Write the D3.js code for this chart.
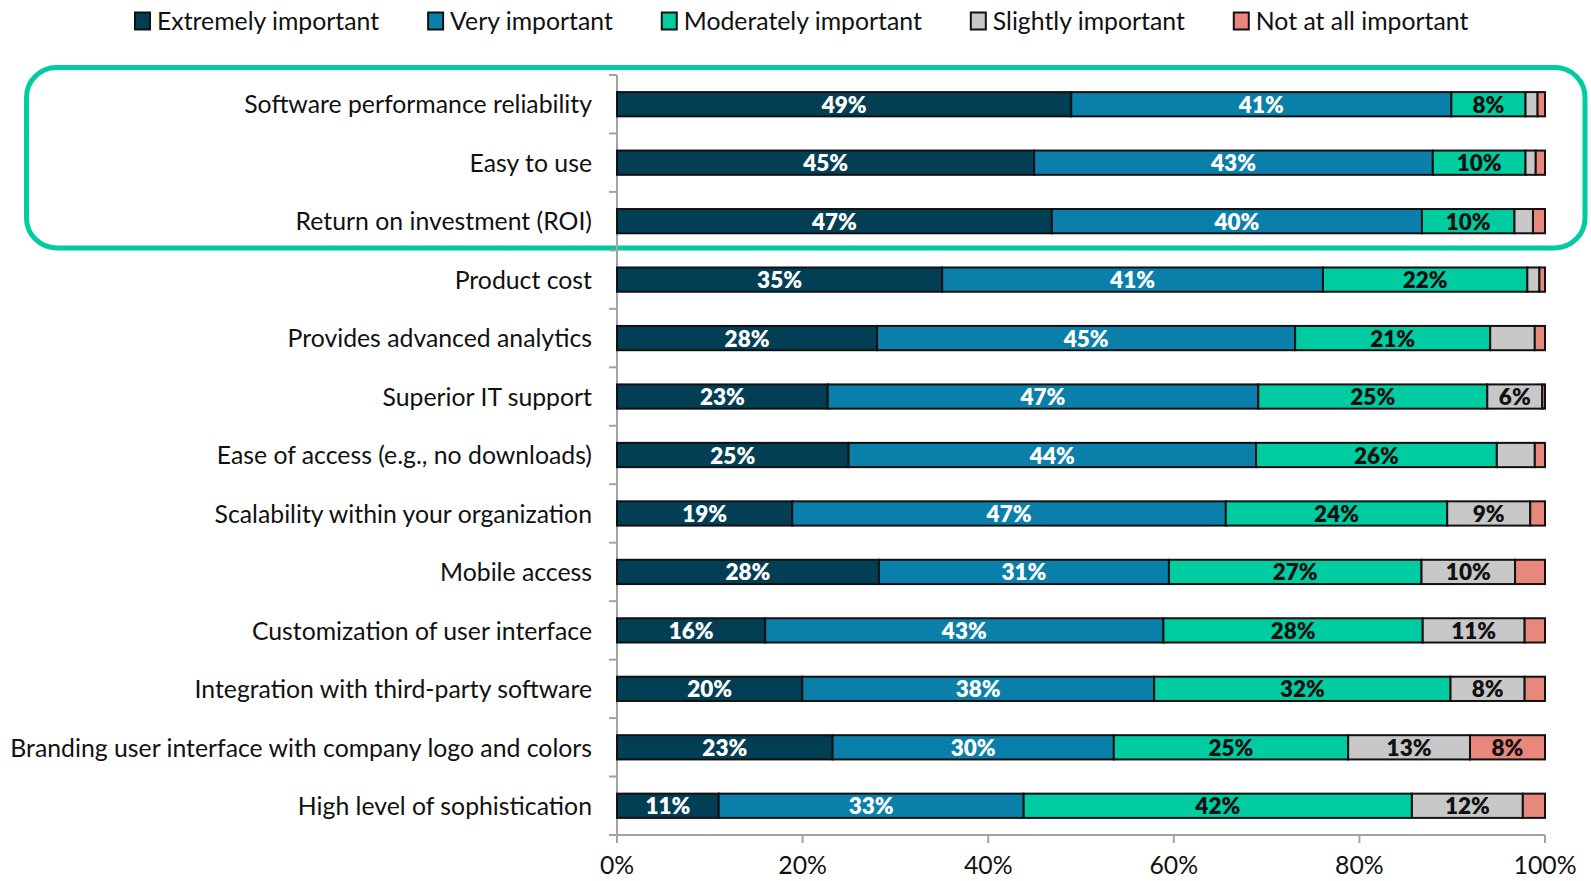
<!DOCTYPE html>
<html>
<head>
<meta charset="utf-8">
<script src="https://cdn.jsdelivr.net/npm/d3@7"></script>
<style>
  html, body { margin: 0; padding: 0; background: #fff; }
  svg { display: block; }
  text { font-family: Lato, "Open Sans", sans-serif; }
</style>
</head>
<body>
<svg id="chart" width="1591" height="881"></svg>
<script>
// Survey: importance of software attributes (share of respondents, %)
const categories = [
  "Software performance reliability",
  "Easy to use",
  "Return on investment (ROI)",
  "Product cost",
  "Provides advanced analytics",
  "Superior IT support",
  "Ease of access (e.g., no downloads)",
  "Scalability within your organization",
  "Mobile access",
  "Customization of user interface",
  "Integration with third-party software",
  "Branding user interface with company logo and colors",
  "High level of sophistication"
];
const seriesNames = ["Extremely important", "Very important", "Moderately important", "Slightly important", "Not at all important"];
const extremely  = [49, 45, 47, 35, 28, 23, 25, 19, 28, 16, 20, 23, 11];
const very       = [41, 43, 40, 41, 45, 47, 44, 47, 31, 43, 38, 30, 33];
const moderately = [8, 10, 10, 22, 21, 25, 26, 24, 27, 28, 32, 25, 42];
const slightly   = [1.3, 1.1, 2.0, 1.3, 4.8, 6, 4.1, 9, 10, 11, 8, 13, 12];
const notAtAll   = [0.8, 1.0, 1.3, 0.6, 1.1, 0.3, 1.1, 1.6, 3.2, 2.2, 2.2, 8, 2.4];
const tickValues = [0, 0.2, 0.4, 0.6, 0.8, 1.0];
const highlighted = ["Software performance reliability", "Easy to use", "Return on investment (ROI)"];

const colors = ["#023f55", "#0a7fa9", "#00cca1", "#c8c8c8", "#e8877c"];
const labelColors = ["#ffffff", "#ffffff", "#111111", "#111111", "#111111"];

const rows = categories.map((c, i) => ({
  category: c,
  [seriesNames[0]]: extremely[i],
  [seriesNames[1]]: very[i],
  [seriesNames[2]]: moderately[i],
  [seriesNames[3]]: slightly[i],
  [seriesNames[4]]: notAtAll[i]
}));

const svg = d3.select("#chart");
const margin = { top: 75, right: 46, bottom: 46, left: 617 };
const width = 1591, height = 881;

const x = d3.scaleLinear().domain([0, 1]).range([margin.left, width - margin.right]);
const y = d3.scaleBand().domain(categories).range([margin.top, height - margin.bottom]).paddingInner(0.585).paddingOuter(0.2925);
// band boundaries used for category ticks
const step = y.step();
const bandTop = c => y(c) - (step - y.bandwidth()) / 2;

const labelSize = 25, valueSize = 22.5;

// measure fonts so that the longest category fits the left margin
const probe = svg.append("text").attr("font-size", labelSize).text(categories[11]);
const k = 582 / probe.node().getComputedTextLength();
probe.remove();

// highlight frame around the top three attributes
const hy0 = bandTop(highlighted[0]) - 7.5;
const hy1 = bandTop(highlighted[2]) + step - 2.5;
svg.append("rect")
  .attr("x", 26.5).attr("y", hy0)
  .attr("width", 1585 - 26.5).attr("height", hy1 - hy0)
  .attr("rx", 30).attr("ry", 30)
  .attr("fill", "none").attr("stroke", "#00cca1").attr("stroke-width", 5);

// axes
const axisColor = "#a3a3a3";
const axisY = height - margin.bottom; // 835
const axisG = svg.append("g");
axisG.append("line")
  .attr("x1", x(0)).attr("x2", x(0))
  .attr("y1", margin.top).attr("y2", axisY + 8)
  .attr("stroke", axisColor).attr("stroke-width", 2);
axisG.append("line")
  .attr("x1", x(0) - 8).attr("x2", x(1))
  .attr("y1", axisY).attr("y2", axisY)
  .attr("stroke", axisColor).attr("stroke-width", 2);
// category tick marks at band boundaries
const bounds = categories.map(c => bandTop(c)).concat([axisY]);
axisG.selectAll("line.ytick").data(bounds).join("line")
  .attr("class", "ytick")
  .attr("x1", x(0) - 8).attr("x2", x(0))
  .attr("y1", d => d).attr("y2", d => d)
  .attr("stroke", axisColor).attr("stroke-width", 2);
// value ticks
axisG.selectAll("line.xtick").data(tickValues).join("line")
  .attr("class", "xtick")
  .attr("x1", d => x(d)).attr("x2", d => x(d))
  .attr("y1", axisY).attr("y2", axisY + 8)
  .attr("stroke", axisColor).attr("stroke-width", 2);
axisG.selectAll("text.xlabel").data(tickValues).join("text")
  .attr("class", "xlabel")
  .attr("transform", d => `translate(${x(d)},${axisY + 39}) scale(${k},1)`)
  .attr("text-anchor", "middle")
  .attr("font-size", labelSize)
  .attr("fill", "#111")
  .text(d => d3.format(".0%")(d));

// category labels
svg.append("g").selectAll("text").data(categories).join("text")
  .attr("transform", c => `translate(592,${y(c) + y.bandwidth() / 2 + 9.2}) scale(${k},1)`)
  .attr("text-anchor", "end")
  .attr("font-size", labelSize)
  .attr("fill", "#111")
  .text(c => c);

// stacked bars normalised to 100%
const stack = d3.stack().keys(seriesNames).offset(d3.stackOffsetExpand);
const layers = stack(rows);

const layerG = svg.append("g").selectAll("g").data(layers).join("g")
  .attr("fill", (d, i) => colors[i]);

layerG.selectAll("rect").data(d => d).join("rect")
  .attr("x", d => x(d[0]))
  .attr("y", d => y(d.data.category))
  .attr("width", d => x(d[1]) - x(d[0]))
  .attr("height", y.bandwidth())
  .attr("stroke", "#111")
  .attr("stroke-width", 2);

// value labels for segments wide enough to hold them
const labelG = svg.append("g");
layers.forEach((layer, li) => {
  layer.forEach(d => {
    const v = d.data[layer.key];
    if (v < 5.5) return;
    labelG.append("text")
      .attr("x", (x(d[0]) + x(d[1])) / 2)
      .attr("y", y(d.data.category) + y.bandwidth() / 2 + 8.5)
      .attr("text-anchor", "middle")
      .attr("font-size", valueSize)
      .attr("font-weight", 800)
      .attr("fill", labelColors[li])
      .text(Math.round(v) + "%");
  });
});

// legend
const legend = svg.append("g");
let lx = 135;
seriesNames.forEach((name, i) => {
  legend.append("rect")
    .attr("x", lx).attr("y", 12.5)
    .attr("width", 15).attr("height", 17)
    .attr("fill", colors[i]).attr("stroke", "#111").attr("stroke-width", 2);
  const t = legend.append("text")
    .attr("transform", `translate(${lx + 22},29.5) scale(${k},1)`)
    .attr("font-size", labelSize)
    .attr("fill", "#111")
    .text(name);
  lx += 22 + t.node().getComputedTextLength() * k + 49;
});
</script>
</body>
</html>
